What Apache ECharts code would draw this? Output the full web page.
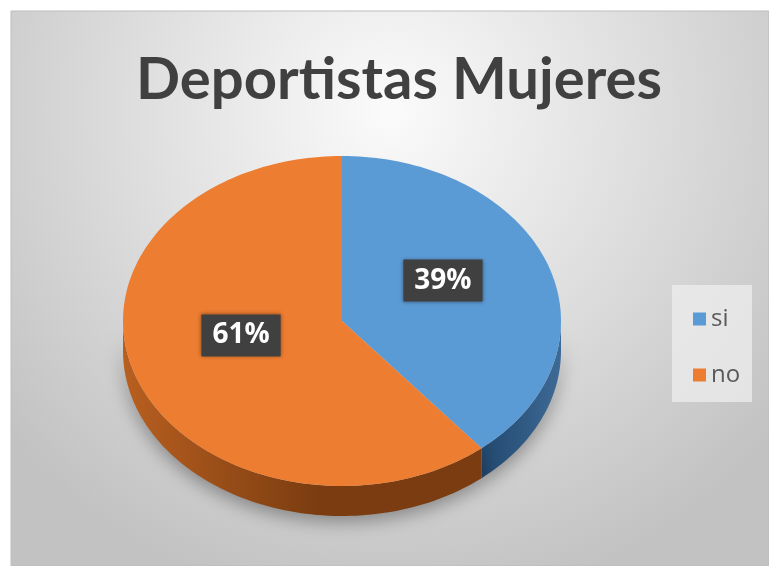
<!DOCTYPE html>
<html>
<head>
<meta charset="utf-8">
<script src="https://cdn.jsdelivr.net/npm/echarts@6/dist/echarts.min.js"></script>
<style>
  html, body { margin: 0; padding: 0; background: #ffffff; }
  #chart { width: 769px; height: 566px; }
</style>
</head>
<body>
<div id="chart"></div>
<script>
// Slice names and shares
const categories = ['si', 'no'];
const values = [39, 61];

// Face colours for each slice: top, side (light edge), side (dark edge)
const topColors = ['#5b9bd5', '#ed7d31'];
const sideLight = ['#3d6a96', '#b85f20'];
const sideDark = ['#22486e', '#7a3c10'];

// Pie geometry (tilted disc)
const CX = 342, CY = 321, RX = 219, RY = 165, DEPTH = 30;

const total = values.reduce((a, b) => a + b, 0);

function pt(theta, dy) {
  return [CX + RX * Math.sin(theta), CY - RY * Math.cos(theta) + (dy || 0)];
}

function arc(a, b, dy) {
  const n = Math.max(2, Math.ceil((b - a) / (Math.PI * 2) * 240));
  const out = [];
  for (let k = 0; k <= n; k++) out.push(pt(a + (b - a) * k / n, dy));
  return out;
}

function makeRender(idx) {
  return function (params, api) {
    const v = api.value(0);
    let before = 0;
    for (let j = 0; j < idx; j++) before += values[j];
    const start = before / total * Math.PI * 2;
    const end = start + v / total * Math.PI * 2;
    const children = [];

    // visible rim: the front half of the disc
    const a = Math.max(start, Math.PI / 2);
    const b = Math.min(end, Math.PI * 1.5);
    if (b > a) {
      const top = arc(a, b, 0);
      const bottom = arc(a, b, DEPTH).reverse();
      children.push({
        type: 'polygon',
        z2: 1,
        shape: { points: top.concat(bottom) },
        style: {
          fill: {
            type: 'linear', x: 0, y: 0, x2: 1, y2: 0,
            colorStops: idx === 1
              ? [{ offset: 0, color: sideLight[idx] }, { offset: 0.55, color: sideDark[idx] }, { offset: 1, color: sideDark[idx] }]
              : [{ offset: 0, color: sideDark[idx] }, { offset: 1, color: sideLight[idx] }]
          },
          shadowBlur: 18,
          shadowOffsetY: 6,
          shadowColor: 'rgba(0,0,0,0.35)'
        }
      });
    }

    // top face
    children.push({
      type: 'polygon',
      z2: 10,
      shape: { points: [[CX, CY]].concat(arc(start, end, 0)) },
      style: { fill: topColors[idx] }
    });

    // percentage label
    const mid = (start + end) / 2;
    const k = 0.49;
    children.push({
      type: 'text',
      z2: 20,
      x: CX + RX * k * Math.sin(mid),
      y: CY - 13 - RY * k * Math.cos(mid),
      style: {
        text: Math.round(v / total * 100) + '%',
        fill: '#ffffff',
        font: 'bold 28px "Open Sans", sans-serif',
        align: 'center',
        verticalAlign: 'middle',
        backgroundColor: '#404040',
        padding: [7, 11, 7, 11],
        shadowBlur: 4,
        shadowColor: 'rgba(0,0,0,0.4)'
      }
    });

    return { type: 'group', children: children };
  };
}

const chart = echarts.init(document.getElementById('chart'), null, { renderer: 'canvas' });

chart.setOption({
  animation: false,
  backgroundColor: '#ffffff',
  graphic: [
    {
      type: 'rect',
      z: -10,
      shape: { x: 11, y: 11, width: 758, height: 555 },
      style: {
        fill: {
          type: 'radial', x: 0.5, y: 0.18, r: 0.9,
          colorStops: [
            { offset: 0, color: '#fbfbfb' },
            { offset: 1, color: '#c2c2c2' }
          ]
        },
        stroke: '#bdbdbd',
        lineWidth: 1
      }
    },
    {
      type: 'rect',
      z: -5,
      shape: { x: 672, y: 285, width: 80, height: 117 },
      style: { fill: 'rgba(238,238,238,0.75)' }
    }
  ],
  title: {
    text: 'Deportistas Mujeres',
    left: 394,
    textAlign: 'center',
    top: 46,
    textStyle: {
      color: '#404040',
      fontFamily: 'Lato',
      fontWeight: 'bold',
      fontSize: 58
    }
  },
  legend: {
    data: categories,
    orient: 'vertical',
    left: 688,
    top: 302,
    itemGap: 32,
    itemWidth: 13,
    itemHeight: 13,
    icon: 'rect',
    textStyle: { color: '#595959', fontFamily: 'Open Sans', fontSize: 24 }
  },
  series: categories.map(function (name, i) {
    return {
      type: 'custom',
      name: name,
      coordinateSystem: 'none',
      itemStyle: { color: topColors[i] },
      data: [[values[i]]],
      renderItem: makeRender(i)
    };
  })
});
</script>
</body>
</html>
